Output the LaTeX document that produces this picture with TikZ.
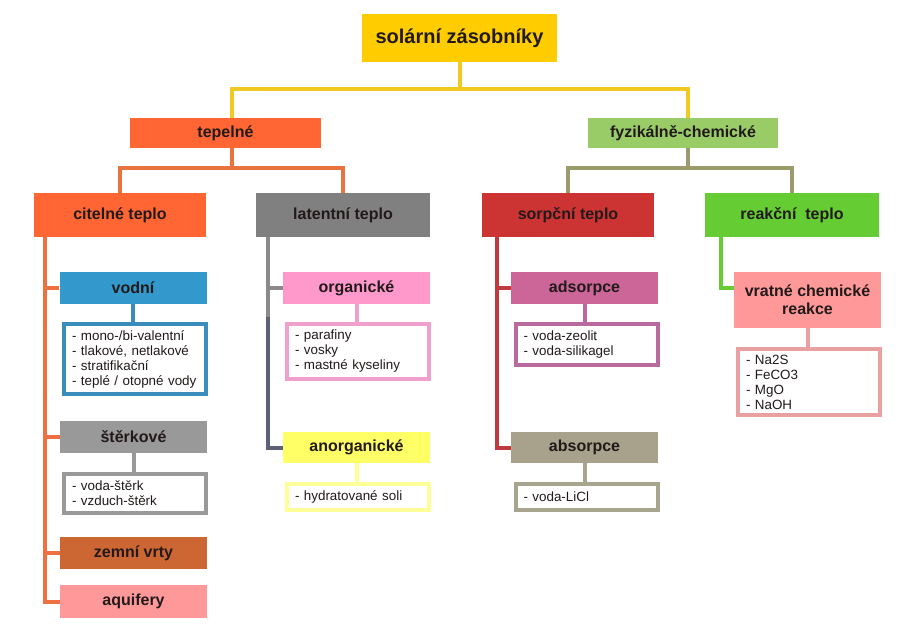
\documentclass[tikz,border=0pt]{standalone}
\usepackage{fontspec}
\setmainfont{Liberation Sans}
\usetikzlibrary{calc}
\definecolor{txtdark}{HTML}{221A1A}
\definecolor{topgold}{HTML}{FFCC00}
\definecolor{topline}{HTML}{F2C823}
\definecolor{tepred}{HTML}{FF6633}
\definecolor{tepline}{HTML}{E8733F}
\definecolor{fyzgreen}{HTML}{99CC66}
\definecolor{fyzline}{HTML}{9A9A6A}
\definecolor{citorange}{HTML}{FF6633}
\definecolor{citline}{HTML}{EE7040}
\definecolor{latgray}{HTML}{808080}
\definecolor{latline}{HTML}{8A8A8A}
\definecolor{latslate}{HTML}{5E6078}
\definecolor{sorred}{HTML}{CC3333}
\definecolor{sorline}{HTML}{C0393F}
\definecolor{reagreen}{HTML}{66CC33}
\definecolor{vodblue}{HTML}{3399CC}
\definecolor{vodline}{HTML}{3A8DBA}
\definecolor{stegray}{HTML}{999999}
\definecolor{zemcopper}{HTML}{CC6633}
\definecolor{aqupink}{HTML}{FF9999}
\definecolor{orgpink}{HTML}{FF99CC}
\definecolor{orgline}{HTML}{F0A0CC}
\definecolor{anoyellow}{HTML}{FFFF66}
\definecolor{anoline}{HTML}{FFFF99}
\definecolor{adsmauve}{HTML}{CC6699}
\definecolor{adsline}{HTML}{B86A9E}
\definecolor{abskhaki}{HTML}{A8A28C}
\definecolor{absline}{HTML}{A8A58F}
\definecolor{vrasalmon}{HTML}{FF9999}
\definecolor{vraline}{HTML}{E8A0A0}
\tikzset{
  head/.style={fill=#1, minimum height=30pt, inner sep=0pt, text=txtdark,
    font=\bfseries\fontsize{16}{18}\selectfont},
  sub/.style={head=#1, minimum width=147pt, minimum height=32pt},
  listbox/.style={draw=#1, line width=4pt, fill=white, text width=126pt,
    inner xsep=8pt, inner ysep=0pt, align=left, text=txtdark,
    font=\fontsize{13.4}{15}\selectfont},
  lnk/.style={line width=4pt, draw=#1}
}

\begin{document}
\begin{tikzpicture}[x=1pt, y=-1pt]
\fill[white] (0,0) rectangle (908,634);
\useasboundingbox (0,0) rectangle (908,634);

\node[head=topgold, minimum width=195pt, minimum height=48pt,
  font=\bfseries\fontsize{20}{24}\selectfont] (top) at (459.5,38) {solární zásobníky};

\node[head=tepred, minimum width=191pt] (tep) at (225.5,133) {tepelné};
\node[head=fyzgreen, minimum width=190pt] (fyz) at (683,133) {fyzikálně-chemické};

\node[head=citorange, minimum width=172pt, minimum height=44pt] (cit) at (120,215) {citelné teplo};
\node[head=latgray, minimum width=174pt, minimum height=44pt] (lat) at (343,215) {latentní teplo};
\node[head=sorred, minimum width=172pt, minimum height=44pt] (sor) at (568,215) {sorpční teplo};
\node[head=reagreen, minimum width=174pt, minimum height=44pt] (rea) at (792,215) {reakční\ \ teplo};

\node[sub=vodblue] (vod) at (133,288) {vodní};
\node[listbox=vodline, minimum height=70pt] (vodL) at (135,359)
  {- mono-/bi-valentní\\- tlakové, netlakové\\- stratifikační\\- teplé / otopné vody};
\node[sub=stegray] (ste) at (133.5,437) {štěrkové};
\node[listbox=stegray, minimum height=39pt] (steL) at (135,493.5) {- voda-štěrk\\- vzduch-štěrk};
\node[sub=zemcopper] (zem) at (133.5,553) {zemní vrty};
\node[sub=aqupink, minimum height=33pt] (aqu) at (133.5,601.5) {aquifery};

\node[sub=orgpink] (org) at (356.5,288) {organické};
\node[listbox=orgline, minimum height=55pt] (orgL) at (358,351.5)
  {- parafiny\\- vosky\\- mastné kyseliny};
\node[sub=anoyellow, minimum height=31pt] (ano) at (356.5,447.5) {anorganické};
\node[listbox=anoline, minimum height=26pt] (anoL) at (358,497) {- hydratované soli};

\node[sub=adsmauve] (ads) at (584.5,288) {adsorpce};
\node[listbox=adsline, minimum height=41pt] (adsL) at (586.5,344.5) {- voda-zeolit\\- voda-silikagel};
\node[sub=abskhaki, minimum height=31pt] (abs) at (584.5,447.5) {absorpce};
\node[listbox=absline, minimum height=26pt] (absL) at (586.5,497) {- voda-LiCl};

\node[sub=vrasalmon, minimum height=56pt, align=center] (vra) at (807.5,300) {vratné chemické\\reakce};
\node[listbox=vraline, minimum height=66pt] (vraL) at (809,382) {- Na2S\\- FeCO3\\- MgO\\- NaOH};

\draw[lnk=topline] (top.south) -- ++(0,27) -| ([xshift=6.5pt]tep.north);
\draw[lnk=topline] (top.south) -- ++(0,27) -| ([xshift=5pt]fyz.north);
\draw[lnk=tepline] ([xshift=6.5pt]tep.south) -- ++(0,20) -| (cit.north);
\draw[lnk=tepline] ([xshift=6.5pt]tep.south) -- ++(0,20) -| (lat.north);
\draw[lnk=fyzline] ([xshift=5pt]fyz.south) -- ++(0,20) -| (sor.north);
\draw[lnk=fyzline] ([xshift=5pt]fyz.south) -- ++(0,20) -| (rea.north);

\coordinate (citB) at ([xshift=11pt]cit.south west);
\draw[lnk=citline] (citB) |- (aqu.west);
\foreach \n in {vod,ste,zem}
  \draw[lnk=citline] (citB |- \n.west) -- (\n.west);

\coordinate (latB) at ([xshift=12pt]lat.south west);
\coordinate (latM) at ($(latB)+(0,80)$);
\draw[lnk=latline] (latB) -- (latM);
\draw[lnk=latslate] (latM) |- (ano.west);
\draw[lnk=latline] (latB |- org.west) -- (org.west);

\coordinate (sorB) at ([xshift=15pt]sor.south west);
\draw[lnk=sorline] (sorB) |- (abs.west);
\draw[lnk=sorline] (sorB |- ads.west) -- (ads.west);

\coordinate (reaB) at ([xshift=16pt]rea.south west);
\draw[lnk=reagreen] (reaB) |- ([yshift=12pt]vra.west);

\draw[lnk=vodline] (vod.south) -- (vod.south |- vodL.north);
\draw[lnk=stegray] (ste.south) -- (ste.south |- steL.north);
\draw[lnk=orgline] (org.south) -- (org.south |- orgL.north);
\draw[lnk=anoline] (ano.south) -- (ano.south |- anoL.north);
\draw[lnk=adsline] (ads.south) -- (ads.south |- adsL.north);
\draw[lnk=absline] (abs.south) -- (abs.south |- absL.north);
\draw[lnk=vraline] (vra.south) -- (vra.south |- vraL.north);
\end{tikzpicture}
\end{document}
